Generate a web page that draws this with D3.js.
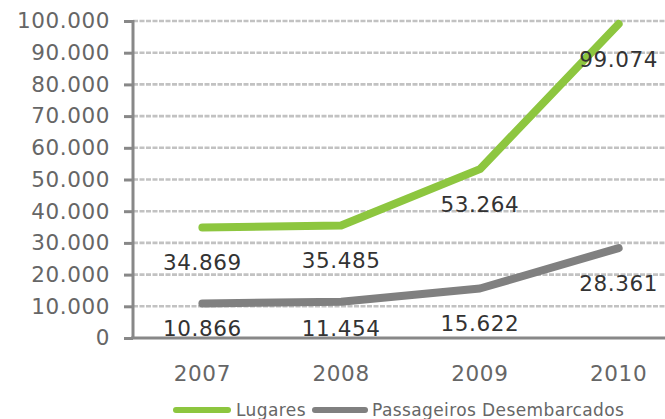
<!DOCTYPE html>
<html>
  <head>
    <meta charset="utf-8">
    <title>Lugares / Passageiros</title>
    <style>
      body{ margin:0; background:#fff; }
      svg{ display:block; font-family:"DejaVu Sans", Verdana, sans-serif; }
    </style>
  </head>
  <body>
    <script src="https://cdn.jsdelivr.net/npm/d3@7"></script>
    <script>
      // dados
      var anos = ['2007', '2008', '2009', '2010'];
      var lugares = [34869, 35485, 53264, 99074];
      var passageiros = [10866, 11454, 15622, 28361];
      var yTicks = [0, 10000, 20000, 30000, 40000, 50000, 60000, 70000, 80000, 90000, 100000];
      var nomes = ['Lugares', 'Passageiros Desembarcados'];
      var cores = ['#8dc63f', '#808080'];

      var W = 665, H = 419;
      var svg = d3.select('body').append('svg').attr('width', W).attr('height', H);

      var x = d3.scaleBand().domain(anos).range([133, 688]);
      var y = d3.scaleLinear().domain([0, 100000]).range([338, 21]);
      var fmt = function(v){ return d3.format(',')(v).replace(/,/g, '.'); };

      // grelha tracejada
      svg.append('g').selectAll('line').data(yTicks.slice(1)).enter().append('line')
        .attr('x1', 133).attr('x2', W)
        .attr('y1', function(d){ return y(d); }).attr('y2', function(d){ return y(d); })
        .style('stroke', '#c2c2c2').style('stroke-width', 2.6).style('stroke-dasharray', '5,1.5');

      // eixo y
      var yAxis = svg.append('g').attr('transform', 'translate(133,0)')
        .call(d3.axisLeft(y).tickValues(yTicks).tickSize(9).tickPadding(14).tickFormat(fmt));
      yAxis.select('.domain').remove();
      yAxis.selectAll('line').style('stroke', '#888').style('stroke-width', 3);
      yAxis.selectAll('text').style('font-size', '21.5px').style('fill', '#666')
        .style('letter-spacing', '0.6px')
        .style('font-family', '"DejaVu Sans", Verdana, sans-serif');
      svg.append('line').attr('x1', 133).attr('x2', 133).attr('y1', y(100000) - 1).attr('y2', y(0))
        .style('stroke', '#888').style('stroke-width', 3);

      // eixo x
      var xAxis = svg.append('g').attr('transform', 'translate(0,338)')
        .call(d3.axisBottom(x).tickSize(0).tickPadding(28));
      xAxis.select('.domain').remove();
      xAxis.selectAll('text').style('font-size', '21.5px').style('fill', '#666')
        .style('letter-spacing', '0.6px')
        .style('font-family', '"DejaVu Sans", Verdana, sans-serif');
      svg.append('line').attr('x1', 131).attr('x2', W).attr('y1', y(0)).attr('y2', y(0))
        .style('stroke', '#888').style('stroke-width', 3);

      // linhas
      var cx = function(d, i){ return x(anos[i]) + x.bandwidth() / 2; };
      var line = d3.line().x(cx).y(function(d){ return y(d); });
      [lugares, passageiros].forEach(function(serie, k){
        svg.append('path').datum(serie).attr('d', line)
          .style('fill', 'none').style('stroke', cores[k]).style('stroke-width', 8)
          .style('stroke-linecap', 'round').style('stroke-linejoin', 'round');
        svg.append('g').selectAll('text').data(serie).enter().append('text')
          .attr('x', cx)
          .attr('y', function(d){ return Math.min(y(d) + 35, 328); })
          .attr('dy', '0.36em')
          .attr('text-anchor', 'middle')
          .style('font-size', '21.5px').style('fill', '#333').style('letter-spacing', '0.6px')
          .text(fmt);
      });

      // legenda
      var leg = [{x1: 176, x2: 228, tx: 236}, {x1: 315, x2: 365, tx: 372}];
      leg.forEach(function(p, k){
        svg.append('line').attr('x1', p.x1).attr('x2', p.x2).attr('y1', 410).attr('y2', 410)
          .style('stroke', cores[k]).style('stroke-width', 6).style('stroke-linecap', 'round');
        svg.append('text').attr('x', p.tx).attr('y', 416)
          .style('font-size', '17px').style('fill', '#666').style('letter-spacing', '0.4px')
          .text(nomes[k]);
      });
    </script>
  </body>
</html>
